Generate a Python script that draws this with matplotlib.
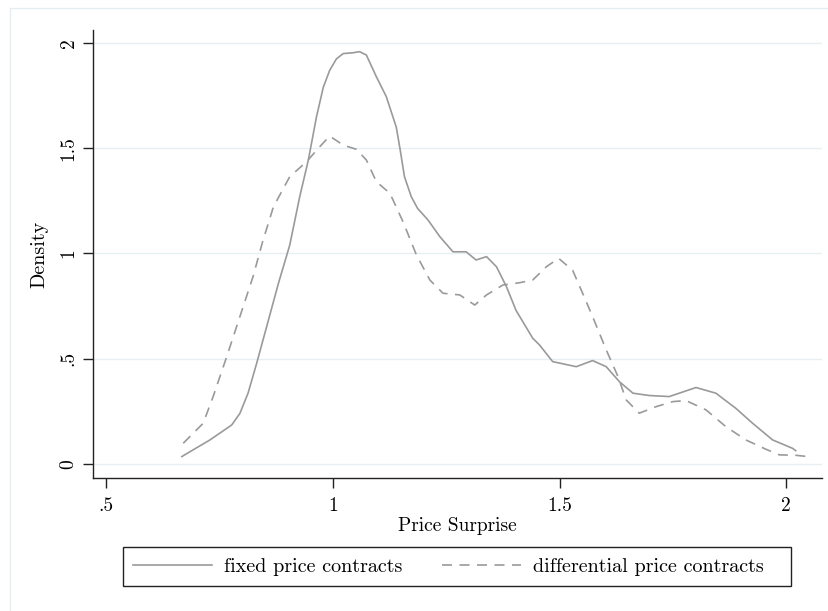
import numpy as np
import matplotlib
matplotlib.use("Agg")
import matplotlib.pyplot as plt
from matplotlib.patches import Rectangle

plt.rcParams['font.family'] = ['cmr10', 'DejaVu Serif']
plt.rcParams['axes.formatter.use_mathtext'] = True

# fixed price contracts (solid)
fixed_x = [0.667, 0.692, 0.729, 0.777, 0.795, 0.813, 0.832, 0.854, 0.880, 0.905,
           0.927, 0.946, 0.964, 0.979, 0.993, 1.008, 1.023, 1.045, 1.059, 1.074,
           1.096, 1.118, 1.140, 1.148, 1.158, 1.173, 1.187, 1.210, 1.236, 1.265,
           1.294, 1.316, 1.339, 1.361, 1.383, 1.404, 1.441, 1.456, 1.485, 1.537,
           1.573, 1.603, 1.632, 1.662, 1.698, 1.742, 1.764, 1.801, 1.845, 1.889,
           1.926, 1.970, 2.014, 2.021]
fixed_y = [0.035, 0.067, 0.114, 0.185, 0.240, 0.336, 0.478, 0.652, 0.858, 1.040,
           1.270, 1.444, 1.650, 1.790, 1.870, 1.925, 1.950, 1.954, 1.959, 1.943,
           1.840, 1.745, 1.600, 1.500, 1.365, 1.270, 1.214, 1.159, 1.080, 1.008,
           1.008, 0.969, 0.985, 0.937, 0.842, 0.730, 0.597, 0.565, 0.486, 0.462,
           0.491, 0.462, 0.391, 0.336, 0.325, 0.320, 0.336, 0.363, 0.336, 0.264,
           0.193, 0.114, 0.074, 0.063]

# differential price contracts (dashed)
diff_x = [0.670, 0.714, 0.736, 0.766, 0.795, 0.824, 0.845, 0.869, 0.905, 0.942,
          0.971, 0.993, 1.023, 1.052, 1.074, 1.096, 1.126, 1.155, 1.184, 1.214,
          1.243, 1.280, 1.313, 1.339, 1.375, 1.412, 1.441, 1.471, 1.498, 1.529,
          1.551, 1.573, 1.603, 1.629, 1.647, 1.676, 1.713, 1.750, 1.779, 1.823,
          1.867, 1.911, 1.955, 1.985, 2.021, 2.047]
diff_y = [0.098, 0.193, 0.320, 0.510, 0.700, 0.890, 1.055, 1.222, 1.365, 1.436,
          1.507, 1.558, 1.515, 1.495, 1.444, 1.341, 1.286, 1.150, 0.995, 0.874,
          0.811, 0.803, 0.755, 0.803, 0.850, 0.861, 0.874, 0.937, 0.977, 0.920,
          0.811, 0.700, 0.542, 0.415, 0.304, 0.241, 0.272, 0.296, 0.301, 0.257,
          0.177, 0.114, 0.070, 0.043, 0.041, 0.035]

xticks = [0.5, 1, 1.5, 2]
xtick_labels = ['.5', '1', '1.5', '2']
yticks = [0, 0.5, 1, 1.5, 2]
ytick_labels = ['0', '.5', '1', '1.5', '2']

W, H = 829, 611
fig = plt.figure(figsize=(W / 100, H / 100), dpi=100)
ax = fig.add_axes([93 / W, 1 - 478 / H, (822 - 93) / W, (478 - 30) / H])

# outer graph region border (light)
fig.patches.append(Rectangle((10 / W, -0.05), 1.2, 1 - 8 / H + 0.05,
                             transform=fig.transFigure, fill=False,
                             edgecolor='#e3eef0', lw=1.0))

line_col = '#9a9a9a'
ax.plot(fixed_x, fixed_y, color=line_col, lw=1.2, label='fixed price contracts')
ax.plot(diff_x, diff_y, color=line_col, lw=1.2, linestyle=(0, (6, 4.5)),
        label='differential price contracts')

ax.set_xlim(0.471, 2.079)
ax.set_ylim(-0.067, 2.062)

for s in ['top', 'right']:
    ax.spines[s].set_visible(False)
for s in ['left', 'bottom']:
    ax.spines[s].set_linewidth(1.0)
    ax.spines[s].set_color('#222222')

ax.set_yticks(yticks)
ax.set_yticklabels(ytick_labels, rotation=90, va='center')
ax.set_xticks(xticks)
ax.set_xticklabels(xtick_labels)
ax.tick_params(axis='both', labelsize=14, length=7, width=1.0, color='#222222')
ax.tick_params(axis='x', pad=7)
ax.tick_params(axis='y', pad=4)

ax.grid(axis='y', color='#e6eff1', lw=1.0)
ax.set_axisbelow(True)

ax.set_xlabel('Price Surprise', fontsize=14, labelpad=1)
ax.set_ylabel('Density', fontsize=14.5, labelpad=8)

# legend box drawn separately, entries placed inside it
fig.patches.append(Rectangle((123 / W, 1 - 586 / H), (791 - 123) / W, 39 / H,
                             transform=fig.transFigure, fill=False,
                             edgecolor='#222222', lw=1.0))
leg = fig.legend(loc='center left', ncol=2,
                 bbox_to_anchor=(133 / W, 1 - 566.5 / H),
                 fontsize=14.5, frameon=False, handlelength=3.9,
                 handletextpad=0.6, borderpad=0, borderaxespad=0,
                 columnspacing=2.0)

fig.savefig('out.png', dpi=100)
